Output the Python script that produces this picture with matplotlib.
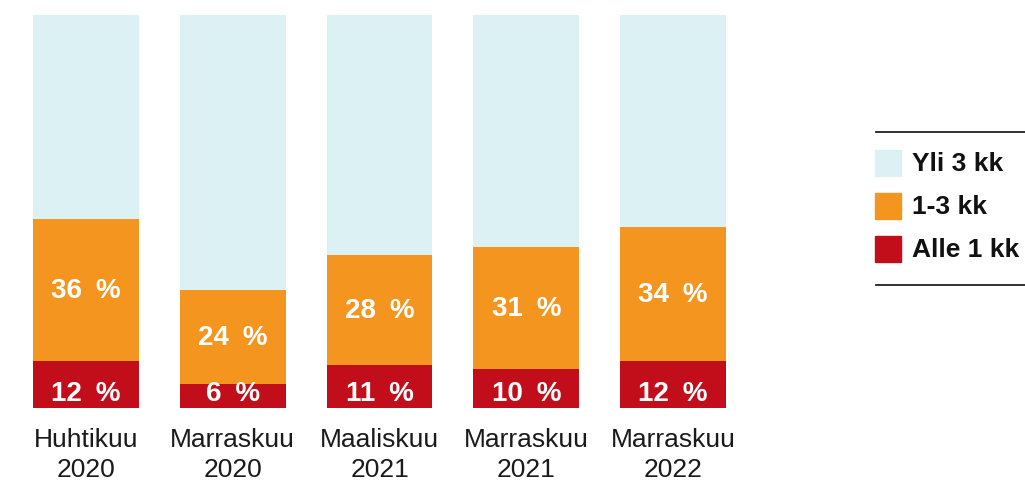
import matplotlib
matplotlib.use("Agg")
import matplotlib.pyplot as plt
from matplotlib.patches import Rectangle
from matplotlib.lines import Line2D

plt.rcParams['font.family'] = ['Liberation Sans', 'DejaVu Sans']

# data
kaudet = ["Huhtikuu\n2020", "Marraskuu\n2020", "Maaliskuu\n2021", "Marraskuu\n2021", "Marraskuu\n2022"]
alle_1 = [12, 6, 11, 10, 12]
kk_1_3 = [36, 24, 28, 31, 34]
yli_3 = [52, 70, 61, 59, 54]

sarjat = ["Yli 3 kk", "1-3 kk", "Alle 1 kk"]
varit = ["#DCF1F3", "#F4951F", "#C20E1A"]

fig = plt.figure(figsize=(10.25, 4.81), dpi=100)
ax = fig.add_axes([33 / 1025, 72 / 481, 693 / 1025, 393 / 481])

x = list(range(len(kaudet)))
w = 0.72
ax.bar(x, alle_1, w, color=varit[2])
ax.bar(x, kk_1_3, w, bottom=alle_1, color=varit[1])
pohja = [a + b for a, b in zip(alle_1, kk_1_3)]
ax.bar(x, yli_3, w, bottom=pohja, color=varit[0])

# arvot palkkeihin (alimmat samalle korkeudelle)
for i in x:
    ax.text(i, 3.9, "{}\u2002%".format(alle_1[i]), ha="center", va="center",
            color="white", fontsize=20, fontweight="bold")
    ax.text(i, alle_1[i] + kk_1_3[i] / 2, "{}\u2002%".format(kk_1_3[i]), ha="center", va="center",
            color="white", fontsize=20, fontweight="bold")

ax.set_xlim(-w / 2, len(kaudet) - 1 + w / 2)
ax.set_ylim(0, 100)
ax.set_xticks(x)
ax.set_xticklabels(kaudet, fontsize=19, color="#1a1a1a", linespacing=1.28)
ax.tick_params(axis="x", length=0, pad=14)
ax.set_yticks([])
for s in ax.spines.values():
    s.set_visible(False)

# selite
for yy in [1 - 133 / 481, 1 - 286 / 481]:
    fig.add_artist(Line2D([876 / 1025, 1.0], [yy, yy], color="#222222", lw=1.3))
for k, (nimi, vari) in enumerate(zip(sarjat, varit)):
    yc = 164 + 43 * k
    fig.add_artist(Rectangle((875 / 1025, 1 - (yc + 13) / 481), 26 / 1025, 26 / 481,
                             color=vari, transform=fig.transFigure))
    fig.text(912 / 1025, 1 - yc / 481, nimi, fontsize=19, fontweight="bold",
             va="center", ha="left", color="#111111")

fig.savefig("out.png", dpi=100)
